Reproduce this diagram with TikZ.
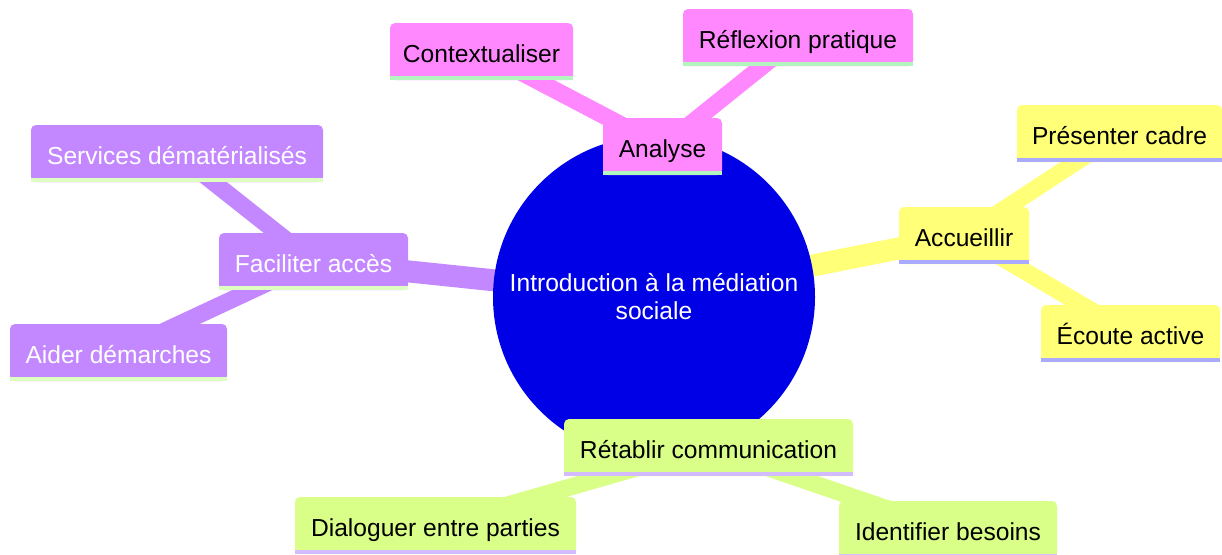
\documentclass[tikz,border=0pt]{standalone}
\usepackage{fontspec}
\setmainfont{Liberation Sans}
\usepackage{xcolor}
\usetikzlibrary{positioning}

\definecolor{rootblue}{HTML}{0000E6}
\definecolor{anafill}{HTML}{FF88FF}
\definecolor{analine}{HTML}{B3F5BF}
\definecolor{accfill}{HTML}{FFFF78}
\definecolor{accline}{HTML}{AAAAFF}
\definecolor{facfill}{HTML}{C388FF}
\definecolor{facline}{HTML}{DDFFBF}
\definecolor{retfill}{HTML}{DAFF88}
\definecolor{retline}{HTML}{D2BCFF}

\pgfdeclarelayer{background}
\pgfsetlayers{background,main}

\tikzset{mmtext/.style = {font=\fontsize{24.6pt}{28pt}\selectfont}}
\tikzset{mmbox/.style = {mmtext, fill=#1, rounded corners=5pt,
                         inner xsep=0pt, inner ysep=0pt,
                         minimum height=57pt, text height=21pt, text depth=0pt}}
\tikzset{trunk/.style = {line width=22pt, draw=#1}}
\tikzset{twig/.style = {line width=17pt, draw=#1}}

\begin{document}
\begin{tikzpicture}[x=1pt, y=-1pt]
      \useasboundingbox (0, 0) rectangle (1222, 554);

      \node [circle, fill=rootblue, minimum size=322pt, inner sep=0, mmtext, text=white, align=center]
            (root) at (654, 297) {Introduction à la médiation\\sociale};

      % Analyse
      \node [mmbox=anafill, minimum width=119pt] (ana) at (662.5, 146.5) {Analyse};
      \node [mmbox=anafill, minimum width=183pt] (ctx) at (481.5, 51.5) {Contextualiser};
      \node [mmbox=anafill, minimum width=230pt] (refl) at (798, 37.5) {Réflexion pratique};

      % Accueillir
      \node [mmbox=accfill, minimum width=130pt] (acc) at (964, 235.5) {Accueillir};
      \node [mmbox=accfill, minimum width=205pt] (pres) at (1119.5, 133.5) {Présenter cadre};
      \node [mmbox=accfill, minimum width=179pt] (ecou) at (1130.5, 333.5) {Écoute active};

      % Faciliter acces
      \node [mmbox=facfill, minimum width=189pt, text=white] (fac) at (313.5, 261.5) {Faciliter accès};
      \node [mmbox=facfill, minimum width=292pt, text=white] (serv) at (177, 153.5) {Services dématérialisés};
      \node [mmbox=facfill, minimum width=217pt, text=white] (aide) at (118.5, 352.5) {Aider démarches};

      % Retablir communication
      \node [mmbox=retfill, minimum width=289pt] (ret) at (708.5, 447.5) {Rétablir communication};
      \node [mmbox=retfill, minimum width=281pt] (dial) at (435.5, 525.5) {Dialoguer entre parties};
      \node [mmbox=retfill, minimum width=218pt] (iden) at (948, 529.5) {Identifier besoins};

      % underlines
      \foreach \n/\c in {ana/analine, ctx/analine, refl/analine,
                         acc/accline, pres/accline, ecou/accline,
                         fac/facline, serv/facline, aide/facline,
                         ret/retline, dial/retline, iden/retline}
        \fill [\c] (\n.south west) rectangle ([yshift=4pt]\n.south east);

      \begin{pgfonlayer}{background}
        \draw [trunk=anafill] (root.center) -- (ana.center);
        \draw [twig=anafill] (ana.center) -- (ctx.center);
        \draw [twig=anafill] (ana.center) -- (refl.center);

        \draw [trunk=accfill] (root.center) -- (acc.center);
        \draw [twig=accfill] (acc.center) -- (pres.center);
        \draw [twig=accfill] (acc.center) -- (ecou.center);

        \draw [trunk=facfill] (root.center) -- (fac.center);
        \draw [twig=facfill] (fac.center) -- (serv.center);
        \draw [twig=facfill] (fac.center) -- (aide.center);

        \draw [trunk=retfill] (root.center) -- (ret.center);
        \draw [twig=retfill] (ret.center) -- (dial.center);
        \draw [twig=retfill] (ret.center) -- (iden.center);
      \end{pgfonlayer}
    \end{tikzpicture}
\end{document}
